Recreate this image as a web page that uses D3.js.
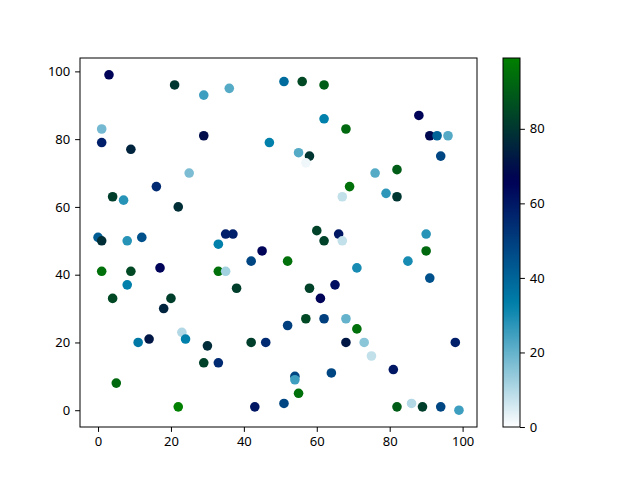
<!DOCTYPE html>
<html>
<head>
<meta charset="utf-8">
<script src="https://cdn.jsdelivr.net/npm/d3@7"></script>
<style>
html,body{margin:0;padding:0;background:#fff;}
svg{display:block;}
text{font-family:"Noto Sans","Open Sans",sans-serif;font-size:13px;fill:#000;}
</style>
</head>
<body>
<svg id="chart" width="640" height="480"></svg>
<script>
const xValues = [3,21,29,36,51,1,1,29,9,47,25,16,4,7,22,0,1,8,12,35,37,33,56,62,62,68,55,58,57,88,91,93,96,94,76,82,69,67,79,82,60,62,66,67,90,45,42,1,9,17,33,35,8,38,4,20,18,23,24,11,14,30,42,46,29,33,5,22,43,90,85,91,52,71,58,65,61,57,62,68,52,71,67,68,73,75,98,81,54,54,64,55,51,82,86,89,94,99];
const yValues = [99,96,93,95,97,83,79,81,77,79,70,66,63,62,60,51,50,50,51,52,52,49,97,96,86,83,76,75,73,87,81,81,81,75,70,71,66,63,64,63,53,50,52,50,52,47,44,41,41,42,41,41,37,36,33,33,30,23,21,20,21,19,20,20,14,14,8,1,1,47,44,39,44,42,36,37,33,27,27,27,25,24,23,20,20,16,20,12,10,9,11,5,2,1,2,1,1,0];
const cValues = [65,80,25,22,38,18,58,70,75,33,17,55,82,28,78,42,78,28,45,58,58,33,85,90,33,93,22,80,2,65,68,40,22,48,22,90,95,8,27,80,83,83,60,8,28,65,48,95,85,65,95,12,33,82,85,82,75,10,33,35,72,77,82,55,83,55,93,99,60,93,30,45,95,30,83,62,65,85,50,20,50,95,0,72,15,8,58,60,48,25,48,95,48,90,10,82,48,25];
const xTicks = [0,20,40,60,80,100];
const yTicks = [0,20,40,60,80,100];
const cTicks = [0,20,40,60,80];

// ocean colormap (gnuplot functions 23, 28, 3), reversed
function ocean(t){
  const r = Math.min(1, Math.max(0, 3*t - 2));
  const g = Math.min(1, Math.abs((3*t - 1)/2));
  const b = t;
  return d3.rgb(r*255, g*255, b*255);
}
const cMin = d3.min(cValues), cMax = d3.max(cValues);
const cNorm = d3.scaleLinear().domain([cMin, cMax]).range([0,1]).clamp(true);
const color = v => ocean(1 - cNorm(v)).formatHex();

const svg = d3.select("#chart");
const L = 80, R = 477, T = 58, B = 427;
const xMin = d3.min(xValues), xMax = d3.max(xValues);
const yMin = d3.min(yValues), yMax = d3.max(yValues);
const xm = (xMax - xMin)*0.05, ym = (yMax - yMin)*0.05;
const x = d3.scaleLinear().domain([xMin - xm, xMax + xm]).range([L, R]);
const y = d3.scaleLinear().domain([yMin - ym, yMax + ym]).range([B, T]);

const data = xValues.map((v,i)=>({x:v, y:yValues[i], c:cValues[i]}));

svg.append("g").selectAll("circle").data(data).join("circle")
  .attr("cx", d=>x(d.x)).attr("cy", d=>y(d.y)).attr("r", 4.8)
  .attr("fill", d=>color(d.c));

svg.append("rect").attr("x", L).attr("y", T).attr("width", R-L).attr("height", B-T)
  .attr("fill","none").attr("stroke","#000").attr("stroke-width",1);

const xAxis = svg.append("g").attr("transform", `translate(0,${B})`)
  .call(d3.axisBottom(x).tickValues(xTicks).tickSize(4.9).tickPadding(4.9).tickFormat(d3.format("d")));
const yAxis = svg.append("g").attr("transform", `translate(${L},0)`)
  .call(d3.axisLeft(y).tickValues(yTicks).tickSize(4.9).tickPadding(4.9).tickFormat(d3.format("d")));
[xAxis, yAxis].forEach(a=>{
  a.select(".domain").remove();
  a.selectAll("line").attr("stroke","#000").attr("stroke-width",1);
  a.selectAll("text").attr("font-size", 13).style("font-family",'"Noto Sans","Open Sans",sans-serif');
});

// colorbar
const CL = 503, CR = 520;
const cb = d3.scaleLinear().domain([cMin, cMax]).range([B, T]);
const defs = svg.append("defs");
const grad = defs.append("linearGradient").attr("id","cbgrad")
  .attr("x1","0").attr("y1","1").attr("x2","0").attr("y2","0");
d3.range(0, 1.0001, 0.02).forEach(t=>{
  grad.append("stop").attr("offset", t).attr("stop-color", ocean(1-t).formatHex());
});
svg.append("rect").attr("x", CL).attr("y", T).attr("width", CR-CL).attr("height", B-T)
  .attr("fill","url(#cbgrad)").attr("stroke","#000").attr("stroke-width",1);
const cAxis = svg.append("g").attr("transform", `translate(${CR},0)`)
  .call(d3.axisRight(cb).tickValues(cTicks).tickSize(4.9).tickPadding(4.9).tickFormat(d3.format("d")));
cAxis.select(".domain").remove();
cAxis.selectAll("line").attr("stroke","#000");
cAxis.selectAll("text").attr("font-size", 13).style("font-family",'"Noto Sans","Open Sans",sans-serif');
</script>
</body>
</html>
